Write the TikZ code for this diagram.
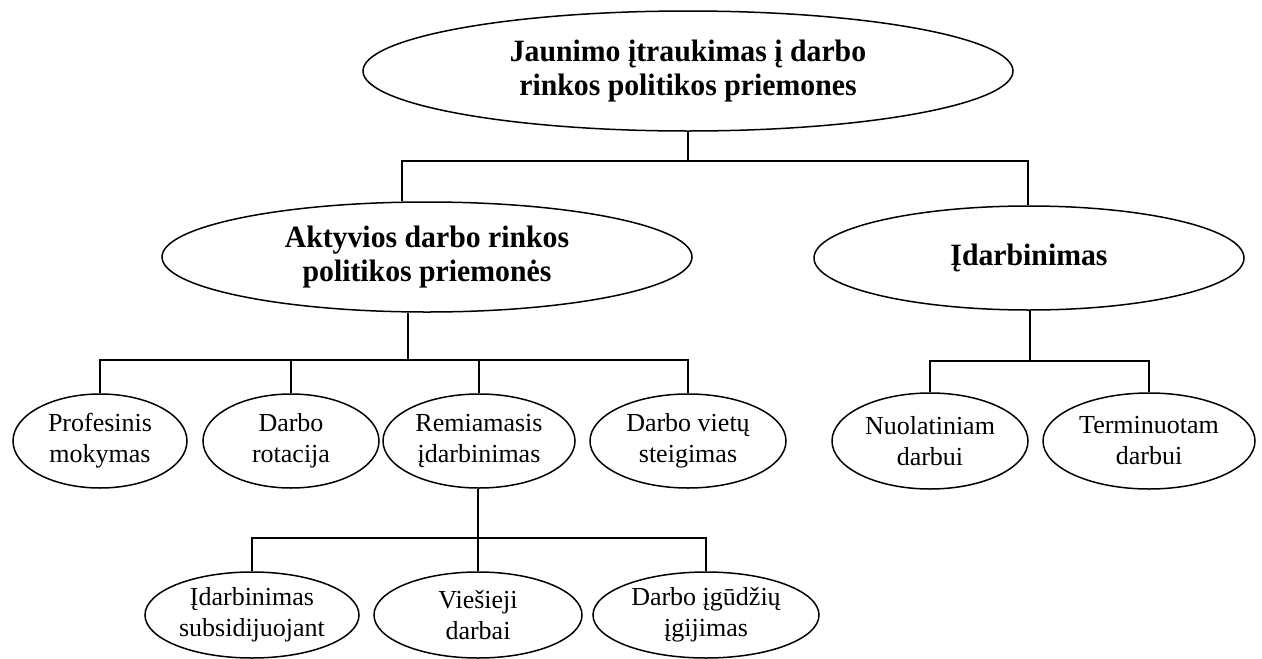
\documentclass[tikz,border=0pt]{standalone}
\usepackage{fontspec}
\setmainfont{Liberation Serif}
\newfontfamily\headfont[FakeStretch=0.96]{Liberation Serif}
\usetikzlibrary{shapes.geometric}
\begin{document}
\begin{tikzpicture}[x=1pt,y=-1pt,
  box/.style={draw, ellipse, line width=1.5pt, inner sep=0pt, align=center},
  head/.style={box, font=\headfont\fontsize{31}{34}\selectfont\bfseries},
  leaf/.style={box, font=\fontsize{26}{31}\selectfont},
  size/.style 2 args={minimum width=#1pt, minimum height=#2pt},
  link/.style={line width=1.5pt}
]
\useasboundingbox (0,0) rectangle (1262,659);

% root and second level
\node[head, size={650}{120}] (T) at (688,71) {Jaunimo įtraukimas į darbo\\rinkos politikos priemones};
\node[head, size={530}{110}] (A) at (427,257) {Aktyvios darbo rinkos\\politikos priemonės};
\node[head, size={430}{104}] (I) at (1029,258) {Įdarbinimas};

% third level
\node[leaf, size={174}{94}] (P)  at (100,441) {Profesinis\\mokymas};
\node[leaf, size={176}{94}] (R)  at (291,441) {Darbo\\rotacija};
\node[leaf, size={192}{94}] (Re) at (479,441) {Remiamasis\\įdarbinimas};
\node[leaf, size={196}{94}] (DV) at (688,441) {Darbo vietų\\steigimas};
\node[leaf, size={196}{96}] (N)  at (930,441) {Nuolatiniam\\darbui};
\node[leaf, size={212}{96}] (Te) at (1149,441) {Terminuotam\\darbui};

% fourth level
\node[leaf, size={214}{86}] (S) at (252,615) {Įdarbinimas\\subsidijuojant};
\node[leaf, size={208}{86}] (V) at (478,615) {Viešieji\\darbai};
\node[leaf, size={226}{86}] (G) at (706,615) {Darbo įgūdžių\\įgijimas};

% bus lines
\coordinate (t1l) at (402,161);
\coordinate (t1r) at (1028,161);
\coordinate (a1) at (408,360);
\coordinate (i1) at (1030,361);
\coordinate (r1) at (478,538);

\draw[link] (T.south) -- (T.south |- t1l);
\draw[link] (t1l |- A.north) -- (t1l) -- (t1r) -- (t1r |- I.north);

\draw[link] (A.south -| a1) -- (a1);
\draw[link] (P.north) -- (P.north |- a1) -- (DV.north |- a1) -- (DV.north);
\draw[link] (R.north |- a1) -- (R.north);
\draw[link] (Re.north |- a1) -- (Re.north);

\draw[link] (I.south -| i1) -- (i1);
\draw[link] (N.north) -- (N.north |- i1) -- (Te.north |- i1) -- (Te.north);

\draw[link] (Re.south -| r1) -- (r1);
\draw[link] (S.north) -- (S.north |- r1) -- (G.north |- r1) -- (G.north);
\draw[link] (V.north |- r1) -- (V.north);
\end{tikzpicture}
\end{document}
